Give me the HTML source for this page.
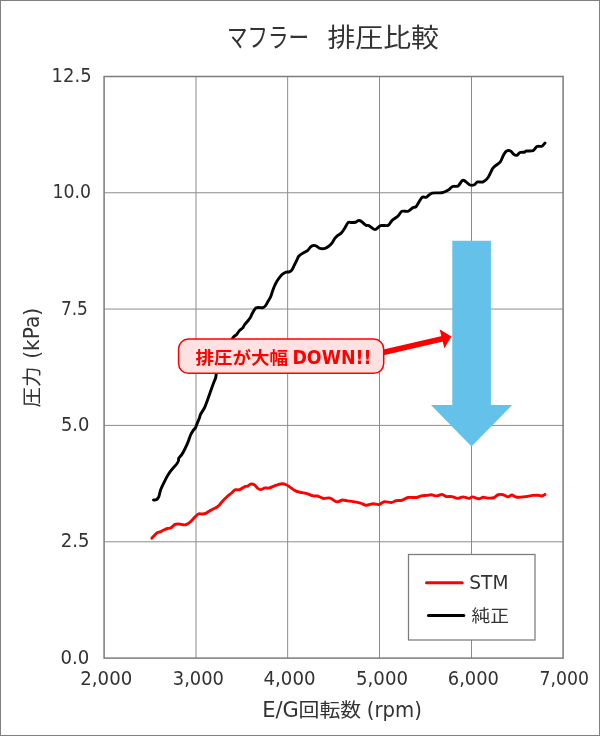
<!DOCTYPE html>
<html lang="ja"><head><meta charset="utf-8"><title>マフラー 排圧比較</title>
<style>
html,body{margin:0;padding:0;background:#fff;}
body{width:600px;height:736px;overflow:hidden;}
svg{display:block;}
text{font-family:"DejaVu Sans", "Liberation Sans", "Noto Sans CJK JP", sans-serif;fill:#333;}
.cjk{font-family:"Liberation Sans", "Noto Sans CJK JP", sans-serif;}
</style></head><body>
<svg width="600" height="736" viewBox="0 0 600 736">
<rect x="0" y="0" width="600" height="736" fill="#fff"/>
<rect x="0.5" y="0.5" width="599" height="735" fill="none" stroke="#808080" stroke-width="1"/>
<g stroke="#8c8c8c" stroke-width="1" fill="none"><line x1="196.00" y1="76.50" x2="196.00" y2="658.10"/><line x1="287.65" y1="76.50" x2="287.65" y2="658.10"/><line x1="379.50" y1="76.50" x2="379.50" y2="658.10"/><line x1="471.50" y1="76.50" x2="471.50" y2="658.10"/><line x1="104.10" y1="192.75" x2="563.10" y2="192.75"/><line x1="104.10" y1="309.05" x2="563.10" y2="309.05"/><line x1="104.10" y1="425.40" x2="563.10" y2="425.40"/><line x1="104.10" y1="541.80" x2="563.10" y2="541.80"/></g>
<rect x="104.10" y="76.50" width="459.00" height="581.60" fill="none" stroke="#7c7c7c" stroke-width="1.5"/>
<path d="M153.50,500.00 C153.87,499.97 155.55,500.16 156.25,499.75 C156.95,499.34 158.17,498.20 158.75,496.90 C159.33,495.60 159.93,491.84 160.60,490.00 C161.27,488.16 162.91,484.85 163.75,483.10 C164.59,481.35 166.07,478.39 166.90,476.90 C167.73,475.41 169.17,473.07 170.00,471.90 C170.83,470.73 172.18,469.19 173.10,468.10 C174.02,467.01 176.18,464.75 176.90,463.75 C177.62,462.75 178.25,461.35 178.50,460.60 C178.75,459.85 178.30,458.93 178.75,458.10 C179.20,457.27 181.07,455.65 181.90,454.40 C182.73,453.15 184.17,450.42 185.00,448.75 C185.83,447.08 187.35,443.73 188.10,441.90 C188.85,440.07 189.93,436.51 190.60,435.00 C191.27,433.49 192.43,431.60 193.10,430.60 C193.77,429.60 195.01,428.58 195.60,427.50 C196.19,426.42 196.99,423.75 197.50,422.50 C198.01,421.25 198.99,419.20 199.40,418.10 C199.81,417.00 199.93,415.60 200.60,414.25 C201.27,412.90 203.56,409.67 204.40,408.00 C205.24,406.33 206.15,403.75 206.90,401.75 C207.65,399.75 209.17,395.33 210.00,393.00 C210.83,390.67 212.35,386.25 213.10,384.25 C213.85,382.25 215.18,379.33 215.60,378.00 C216.02,376.67 215.80,375.72 216.25,374.25 C216.70,372.78 218.23,368.90 219.00,367.00 C219.77,365.10 221.20,362.00 222.00,360.00 C222.80,358.00 224.20,354.00 225.00,352.00 C225.80,350.00 227.08,346.70 228.00,345.00 C228.92,343.30 231.05,340.44 231.90,339.25 C232.75,338.06 233.82,336.67 234.40,336.10 C234.98,335.53 235.58,335.73 236.25,335.00 C236.92,334.27 238.57,331.52 239.40,330.60 C240.23,329.68 241.83,328.85 242.50,328.10 C243.17,327.35 243.73,325.91 244.40,325.00 C245.07,324.09 246.75,322.17 247.50,321.25 C248.25,320.33 249.33,319.19 250.00,318.10 C250.67,317.01 251.67,314.48 252.50,313.10 C253.33,311.72 254.92,308.46 256.25,307.75 C257.58,307.04 261.25,308.04 262.50,307.75 C263.75,307.46 264.85,306.47 265.60,305.60 C266.35,304.73 267.43,302.41 268.10,301.25 C268.77,300.09 270.01,298.23 270.60,296.90 C271.19,295.57 271.99,292.67 272.50,291.25 C273.01,289.83 273.81,287.58 274.40,286.25 C274.99,284.92 276.15,282.50 276.90,281.25 C277.65,280.00 279.25,277.85 280.00,276.90 C280.75,275.95 281.67,274.74 282.50,274.10 C283.33,273.46 285.33,272.39 286.25,272.10 C287.17,271.81 288.65,272.18 289.40,271.90 C290.15,271.62 291.23,270.92 291.90,270.00 C292.57,269.08 293.73,266.33 294.40,265.00 C295.07,263.67 296.32,261.17 296.90,260.00 C297.48,258.83 298.00,257.13 298.75,256.25 C299.50,255.37 301.33,254.15 302.50,253.40 C303.67,252.65 306.42,251.47 307.50,250.60 C308.58,249.73 309.77,247.59 310.60,246.90 C311.43,246.21 313.00,245.52 313.75,245.40 C314.50,245.28 315.42,245.60 316.25,246.00 C317.08,246.40 318.83,248.08 320.00,248.40 C321.17,248.72 323.83,248.69 325.00,248.40 C326.17,248.11 327.83,246.96 328.75,246.25 C329.67,245.54 331.07,244.19 331.90,243.10 C332.73,242.01 334.25,239.10 335.00,238.10 C335.75,237.10 336.67,236.27 337.50,235.60 C338.33,234.93 340.33,234.01 341.25,233.10 C342.17,232.19 343.49,230.16 344.40,228.75 C345.31,227.34 347.19,223.33 348.10,222.50 C349.01,221.67 350.25,222.53 351.25,222.50 C352.25,222.47 354.69,222.50 355.60,222.25 C356.51,222.00 357.43,220.78 358.10,220.60 C358.77,220.42 359.85,220.51 360.60,220.90 C361.35,221.29 363.00,222.90 363.75,223.50 C364.50,224.10 365.58,225.12 366.25,225.40 C366.92,225.68 367.58,225.04 368.75,225.60 C369.92,226.16 373.42,229.60 375.00,229.60 C376.58,229.60 378.85,226.16 380.60,225.60 C382.35,225.04 386.59,226.07 388.10,225.40 C389.61,224.73 390.57,221.85 391.90,220.60 C393.23,219.35 396.77,217.25 398.10,216.00 C399.43,214.75 400.57,211.88 401.90,211.25 C403.23,210.62 406.61,211.75 408.10,211.25 C409.59,210.75 412.01,208.13 413.10,207.50 C414.19,206.87 415.08,207.83 416.25,206.50 C417.42,205.17 420.57,198.73 421.90,197.50 C423.23,196.27 424.92,197.84 426.25,197.25 C427.58,196.66 429.81,193.70 431.90,193.10 C433.99,192.50 439.65,193.20 441.90,192.75 C444.15,192.30 447.34,190.58 448.75,189.75 C450.16,188.92 451.25,187.00 452.50,186.50 C453.75,186.00 456.85,186.75 458.10,186.00 C459.35,185.25 461.06,181.62 461.90,180.90 C462.74,180.18 463.32,180.05 464.40,180.60 C465.48,181.15 468.67,184.45 470.00,185.00 C471.33,185.55 473.40,185.16 474.40,184.75 C475.40,184.34 476.34,182.28 477.50,181.90 C478.66,181.52 481.69,182.49 483.10,181.90 C484.51,181.31 486.85,179.25 488.10,177.50 C489.35,175.75 491.50,170.34 492.50,168.75 C493.50,167.16 494.56,166.51 495.60,165.60 C496.64,164.69 499.26,163.27 500.30,161.90 C501.34,160.53 502.57,156.74 503.40,155.30 C504.23,153.86 505.54,151.67 506.50,151.10 C507.46,150.53 509.63,150.56 510.60,151.00 C511.57,151.44 512.91,153.83 513.75,154.40 C514.59,154.97 516.07,155.50 516.90,155.25 C517.73,155.00 519.00,152.90 520.00,152.50 C521.00,152.10 523.57,152.45 524.40,152.25 C525.23,152.05 525.09,151.22 526.25,151.00 C527.41,150.78 531.68,151.20 533.10,150.60 C534.52,150.00 535.73,147.08 536.90,146.50 C538.07,145.92 540.82,146.70 541.90,146.25 C542.98,145.80 544.59,143.52 545.00,143.10" fill="none" stroke="#000" stroke-width="2.9" stroke-linejoin="round" stroke-linecap="round"/>
<path d="M151.90,538.10 C152.57,537.41 155.82,533.73 156.90,532.90 C157.98,532.07 159.09,532.29 160.00,531.90 C160.91,531.51 162.75,530.45 163.75,530.00 C164.75,529.55 166.59,528.75 167.50,528.50 C168.41,528.25 169.60,528.65 170.60,528.10 C171.60,527.55 173.91,524.95 175.00,524.40 C176.09,523.85 177.34,523.95 178.75,524.00 C180.16,524.05 183.93,525.15 185.60,524.75 C187.27,524.35 190.00,522.05 191.25,521.00 C192.50,519.95 194.00,517.87 195.00,516.90 C196.00,515.93 197.75,514.14 198.75,513.75 C199.75,513.36 201.50,514.09 202.50,514.00 C203.50,513.91 205.08,513.63 206.25,513.10 C207.42,512.57 209.92,510.75 211.25,510.00 C212.58,509.25 215.16,508.17 216.25,507.50 C217.34,506.83 218.57,505.83 219.40,505.00 C220.23,504.17 221.42,502.42 222.50,501.25 C223.58,500.08 226.25,497.38 227.50,496.25 C228.75,495.12 230.90,493.62 231.90,492.75 C232.90,491.88 234.00,490.15 235.00,489.75 C236.00,489.35 238.07,490.18 239.40,489.75 C240.73,489.32 243.92,486.97 245.00,486.50 C246.08,486.03 246.75,486.57 247.50,486.25 C248.25,485.93 249.68,484.30 250.60,484.10 C251.52,483.90 253.48,484.22 254.40,484.75 C255.32,485.28 256.67,487.45 257.50,488.10 C258.33,488.75 259.60,489.63 260.60,489.60 C261.60,489.57 263.91,488.10 265.00,487.90 C266.09,487.70 267.42,488.41 268.75,488.10 C270.08,487.79 273.25,486.18 275.00,485.60 C276.75,485.02 280.40,483.86 281.90,483.75 C283.40,483.64 285.17,484.30 286.25,484.75 C287.33,485.20 288.75,486.28 290.00,487.10 C291.25,487.92 294.27,490.21 295.60,490.90 C296.93,491.59 298.58,491.92 300.00,492.25 C301.42,492.58 304.50,492.91 306.25,493.40 C308.00,493.89 311.60,495.55 313.10,495.90 C314.60,496.25 316.17,495.67 317.50,496.00 C318.83,496.33 321.60,498.15 323.10,498.40 C324.60,498.65 327.58,497.82 328.75,497.90 C329.92,497.98 330.99,498.52 331.90,499.00 C332.81,499.48 334.69,501.17 335.60,501.50 C336.51,501.83 337.83,501.70 338.75,501.50 C339.67,501.30 341.33,500.08 342.50,500.00 C343.67,499.92 346.09,500.69 347.50,500.90 C348.91,501.11 351.35,501.31 353.10,501.60 C354.85,501.89 358.85,502.61 360.60,503.10 C362.35,503.59 364.58,505.16 366.25,505.25 C367.92,505.34 371.43,503.84 373.10,503.75 C374.77,503.66 377.24,504.89 378.75,504.60 C380.26,504.31 382.73,501.88 384.40,501.60 C386.07,501.32 389.67,502.63 391.25,502.50 C392.83,502.37 394.83,500.90 396.25,500.60 C397.67,500.30 400.32,500.66 401.90,500.25 C403.48,499.84 406.19,497.87 408.10,497.50 C410.01,497.13 414.50,497.71 416.25,497.50 C418.00,497.29 419.83,496.18 421.25,495.90 C422.67,495.62 425.57,495.55 426.90,495.40 C428.23,495.25 429.92,494.68 431.25,494.75 C432.58,494.82 435.48,495.95 436.90,495.90 C438.32,495.85 440.65,494.32 441.90,494.40 C443.15,494.48 444.92,496.21 446.25,496.50 C447.58,496.79 450.40,496.35 451.90,496.60 C453.40,496.85 456.01,498.36 457.50,498.40 C458.99,498.44 461.60,496.90 463.10,496.90 C464.60,496.90 467.50,498.40 468.75,498.40 C470.00,498.40 471.17,496.85 472.50,496.90 C473.83,496.95 477.34,498.70 478.75,498.75 C480.16,498.80 481.93,497.34 483.10,497.25 C484.27,497.16 486.08,498.03 487.50,498.10 C488.92,498.17 492.34,498.20 493.75,497.75 C495.16,497.30 496.85,495.15 498.10,494.75 C499.35,494.35 501.77,494.46 503.10,494.75 C504.43,495.04 506.93,496.87 508.10,496.90 C509.27,496.93 510.73,494.95 511.90,495.00 C513.07,495.05 514.99,497.05 516.90,497.25 C518.81,497.45 524.17,496.75 526.25,496.50 C528.33,496.25 530.92,495.57 532.50,495.40 C534.08,495.23 536.85,495.17 538.10,495.25 C539.35,495.33 540.98,496.11 541.90,496.00 C542.82,495.89 544.59,494.61 545.00,494.40" fill="none" stroke="#ff0000" stroke-width="2.9" stroke-linejoin="round" stroke-linecap="round"/>
<!-- blue arrow -->
<polygon points="452.3,240.8 490.9,240.8 490.9,405 512.1,405 471.5,446.5 431,405 452.3,405" fill="#63c1ea"/>
<!-- red arrow -->
<line x1="383" y1="352.5" x2="442.5" y2="338.7" stroke="#ff0000" stroke-width="5.6"/>
<polygon points="439.6,329.3 451.4,336.6 444.4,348.3" fill="#ff0000"/>
<!-- callout -->
<rect x="178.6" y="339.1" width="205.1" height="34.2" rx="9.8" ry="9.8" fill="#ffe1e1" stroke="#ff0000" stroke-width="1.5"/>
<!-- legend -->
<rect x="408.5" y="554.5" width="126.5" height="85.5" fill="#fff" stroke="#7c7c7c" stroke-width="1.25"/>
<line x1="426.5" y1="582.75" x2="462.3" y2="582.75" stroke="#ff0000" stroke-width="3" stroke-linecap="round"/>
<line x1="428.5" y1="615.55" x2="463.8" y2="615.55" stroke="#000" stroke-width="3" stroke-linecap="round"/>
<text id="yl0" x="51.60" y="81.90" font-size="19.5" textLength="40.00" lengthAdjust="spacingAndGlyphs" >12.5</text>
<text id="yl1" x="52.50" y="198.30" font-size="19.5" textLength="38.50" lengthAdjust="spacingAndGlyphs" >10.0</text>
<text id="yl2" x="60.90" y="315.00" font-size="19.5" textLength="27.00" lengthAdjust="spacingAndGlyphs" >7.5</text>
<text id="yl3" x="60.90" y="430.90" font-size="19.5" textLength="28.50" lengthAdjust="spacingAndGlyphs" >5.0</text>
<text id="yl4" x="60.70" y="546.80" font-size="19.5" textLength="28.70" lengthAdjust="spacingAndGlyphs" >2.5</text>
<text id="yl5" x="60.50" y="664.00" font-size="19.5" textLength="28.80" lengthAdjust="spacingAndGlyphs" >0.0</text>
<text id="xl0" x="80.25" y="684.60" font-size="19.5" textLength="52.00" lengthAdjust="spacingAndGlyphs" >2,000</text>
<text id="xl1" x="172.75" y="684.60" font-size="19.5" textLength="51.25" lengthAdjust="spacingAndGlyphs" >3,000</text>
<text id="xl2" x="263.50" y="684.60" font-size="19.5" textLength="52.00" lengthAdjust="spacingAndGlyphs" >4,000</text>
<text id="xl3" x="356.00" y="684.60" font-size="19.5" textLength="52.00" lengthAdjust="spacingAndGlyphs" >5,000</text>
<text id="xl4" x="447.75" y="684.60" font-size="19.5" textLength="51.25" lengthAdjust="spacingAndGlyphs" >6,000</text>
<text id="xl5" x="539.50" y="684.60" font-size="19.5" textLength="49.50" lengthAdjust="spacingAndGlyphs" >7,000</text>
<text id="lg1" x="469.30" y="589.10" font-size="20" textLength="39.20" lengthAdjust="spacingAndGlyphs" >STM</text>
<text id="lg2" x="471.40" y="621.90" font-size="16.8" textLength="37.50" lengthAdjust="spacingAndGlyphs" class="cjk">純正</text>
<text id="t1" x="227.00" y="47.00" font-size="26.2" textLength="82.00" lengthAdjust="spacingAndGlyphs" class="cjk">マフラー</text>
<text id="t2" x="327.40" y="46.60" font-size="25.8" textLength="111.60" lengthAdjust="spacingAndGlyphs" class="cjk">排圧比較</text>
<text id="xa1" x="262.20" y="716.80" font-size="21" textLength="36.60" lengthAdjust="spacingAndGlyphs" >E/G</text>
<text id="xa2" x="298.60" y="717.00" font-size="18.9" textLength="62.60" lengthAdjust="spacingAndGlyphs" class="cjk">回転数</text>
<text id="xa3" x="366.80" y="716.80" font-size="21" textLength="55.20" lengthAdjust="spacingAndGlyphs" >(rpm)</text>
<g transform="translate(39.4,407.5) rotate(-90)"><text id="ya1" x="0.00" y="0.00" font-size="19.6" textLength="41.00" lengthAdjust="spacingAndGlyphs" class="cjk">圧力</text>
<text id="ya2" x="48.70" y="0.00" font-size="21" textLength="51.00" lengthAdjust="spacingAndGlyphs" >(kPa)</text>
</g>
<text id="c1" x="195.40" y="363.60" font-size="17.6" textLength="92.50" lengthAdjust="spacingAndGlyphs" class="cjk" font-weight="bold" style="fill:#ff0000">排圧が大幅</text>
<text id="c2" x="292.40" y="364.00" font-size="18.8" textLength="79.00" lengthAdjust="spacingAndGlyphs" font-weight="bold" style="fill:#ff0000">DOWN!!</text>

</svg>
</body></html>
